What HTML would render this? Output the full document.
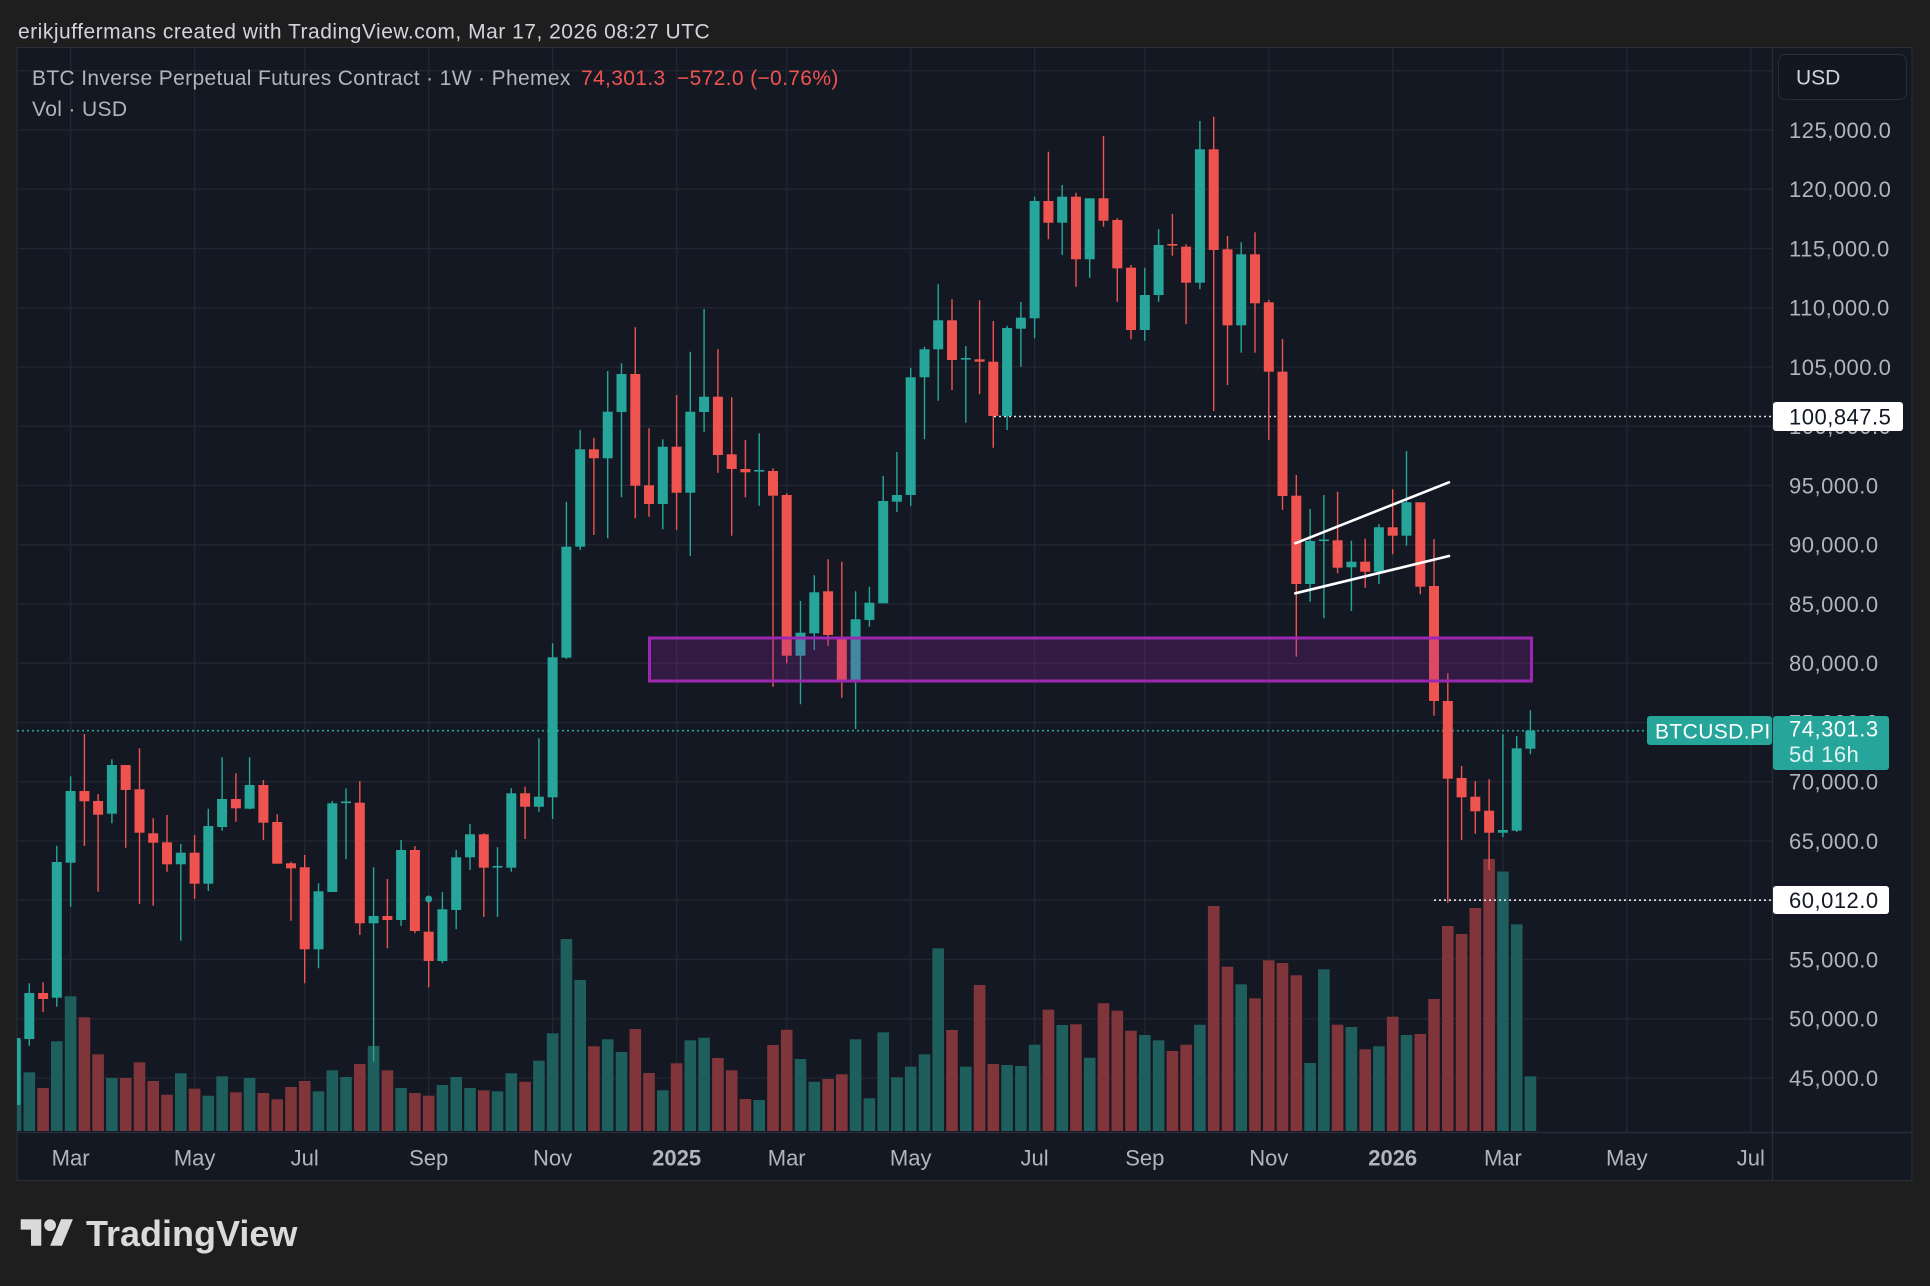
<!DOCTYPE html>
<html>
<head>
<meta charset="utf-8">
<style>
html,body{margin:0;padding:0;background:#1e1e1e;width:1930px;height:1286px;overflow:hidden;}
svg{display:block;font-family:"Liberation Sans",Arial,sans-serif;}
</style>
</head>
<body>
<svg width="1930" height="1286" viewBox="0 0 1930 1286" xmlns="http://www.w3.org/2000/svg">
<defs>
<clipPath id="plot"><rect x="17" y="48" width="1755.5" height="1084"/></clipPath>
</defs>
<rect x="0" y="0" width="1930" height="1286" fill="#1e1e1e"/>
<text x="18" y="38.5" font-size="21" fill="#d1d4dc" letter-spacing="0.5">erikjuffermans created with TradingView.com, Mar 17, 2026 08:27 UTC</text>

<!-- chart panel -->
<rect x="17" y="47.5" width="1895" height="1133" fill="#141823" stroke="#2a2e39" stroke-width="1"/>

<!-- grid -->
<g stroke="#232733" stroke-width="1.3">
<path d="M17 70.75H1772 M17 130H1772 M17 189.25H1772 M17 248.5H1772 M17 307.75H1772 M17 367H1772 M17 426.25H1772 M17 485.5H1772 M17 544.75H1772 M17 604H1772 M17 663.25H1772 M17 722.5H1772 M17 781.75H1772 M17 841H1772 M17 900.25H1772 M17 959.5H1772 M17 1018.75H1772 M17 1078H1772"/>
<path d="M70.6 48V1132 M194.6 48V1132 M304.7 48V1132 M428.7 48V1132 M552.6 48V1132 M676.6 48V1132 M786.7 48V1132 M910.7 48V1132 M1034.6 48V1132 M1144.8 48V1132 M1268.8 48V1132 M1392.7 48V1132 M1502.9 48V1132 M1626.8 48V1132 M1750.8 48V1132"/>
</g>

<g clip-path="url(#plot)">
<!-- volume -->
<g fill="#1e5e5d">
<rect x="9.7" y="1040" width="11.6" height="91"/>
<rect x="23.5" y="1072.3" width="11.6" height="58.7"/>
<rect x="51" y="1041.3" width="11.6" height="89.7"/>
<rect x="64.8" y="996.3" width="11.6" height="134.7"/>
<rect x="106.1" y="1078" width="11.6" height="53"/>
<rect x="175" y="1073.3" width="11.6" height="57.7"/>
<rect x="202.5" y="1095.7" width="11.6" height="35.3"/>
<rect x="216.3" y="1076.3" width="11.6" height="54.7"/>
<rect x="243.8" y="1078" width="11.6" height="53"/>
<rect x="312.7" y="1091.3" width="11.6" height="39.7"/>
<rect x="326.5" y="1070.3" width="11.6" height="60.7"/>
<rect x="340.2" y="1077" width="11.6" height="54"/>
<rect x="367.8" y="1046" width="11.6" height="85"/>
<rect x="395.3" y="1088" width="11.6" height="43"/>
<rect x="436.6" y="1085" width="11.6" height="46"/>
<rect x="450.4" y="1077" width="11.6" height="54"/>
<rect x="464.2" y="1088" width="11.6" height="43"/>
<rect x="491.7" y="1091.3" width="11.6" height="39.7"/>
<rect x="505.5" y="1073.3" width="11.6" height="57.7"/>
<rect x="533.1" y="1060.7" width="11.6" height="70.3"/>
<rect x="546.8" y="1033.3" width="11.6" height="97.7"/>
<rect x="560.6" y="939" width="11.6" height="192"/>
<rect x="574.4" y="980" width="11.6" height="151"/>
<rect x="601.9" y="1039.3" width="11.6" height="91.7"/>
<rect x="615.7" y="1052" width="11.6" height="79"/>
<rect x="657" y="1090.3" width="11.6" height="40.7"/>
<rect x="684.5" y="1040.3" width="11.6" height="90.7"/>
<rect x="698.3" y="1037.7" width="11.6" height="93.3"/>
<rect x="753.4" y="1100" width="11.6" height="31"/>
<rect x="794.7" y="1059" width="11.6" height="72"/>
<rect x="808.5" y="1081.7" width="11.6" height="49.3"/>
<rect x="849.8" y="1039.3" width="11.6" height="91.7"/>
<rect x="863.6" y="1098.3" width="11.6" height="32.7"/>
<rect x="877.4" y="1032.3" width="11.6" height="98.7"/>
<rect x="891.1" y="1077.3" width="11.6" height="53.7"/>
<rect x="904.9" y="1066.7" width="11.6" height="64.3"/>
<rect x="918.7" y="1054.3" width="11.6" height="76.7"/>
<rect x="932.4" y="948.3" width="11.6" height="182.7"/>
<rect x="960" y="1066.7" width="11.6" height="64.3"/>
<rect x="1001.3" y="1065" width="11.6" height="66"/>
<rect x="1015.1" y="1066" width="11.6" height="65"/>
<rect x="1028.8" y="1044.7" width="11.6" height="86.3"/>
<rect x="1056.4" y="1025" width="11.6" height="106"/>
<rect x="1083.9" y="1057.7" width="11.6" height="73.3"/>
<rect x="1139" y="1035" width="11.6" height="96"/>
<rect x="1152.8" y="1040.3" width="11.6" height="90.7"/>
<rect x="1194.1" y="1024.7" width="11.6" height="106.3"/>
<rect x="1235.4" y="984.3" width="11.6" height="146.7"/>
<rect x="1304.3" y="1063" width="11.6" height="68"/>
<rect x="1318.1" y="969.3" width="11.6" height="161.7"/>
<rect x="1345.6" y="1027" width="11.6" height="104"/>
<rect x="1373.1" y="1046.3" width="11.6" height="84.7"/>
<rect x="1400.7" y="1035" width="11.6" height="96"/>
<rect x="1497.1" y="871.5" width="11.6" height="259.5"/>
<rect x="1510.9" y="924.3" width="11.6" height="206.7"/>
<rect x="1524.6" y="1076.3" width="11.6" height="54.7"/>
</g>
<g fill="#80353a">
<rect x="37.3" y="1088" width="11.6" height="43"/>
<rect x="78.6" y="1017.3" width="11.6" height="113.7"/>
<rect x="92.3" y="1054.3" width="11.6" height="76.7"/>
<rect x="119.9" y="1078" width="11.6" height="53"/>
<rect x="133.7" y="1062.3" width="11.6" height="68.7"/>
<rect x="147.4" y="1081" width="11.6" height="50"/>
<rect x="161.2" y="1094.7" width="11.6" height="36.3"/>
<rect x="188.8" y="1088.7" width="11.6" height="42.3"/>
<rect x="230.1" y="1092.3" width="11.6" height="38.7"/>
<rect x="257.6" y="1093" width="11.6" height="38"/>
<rect x="271.4" y="1099.3" width="11.6" height="31.7"/>
<rect x="285.2" y="1087" width="11.6" height="44"/>
<rect x="298.9" y="1081" width="11.6" height="50"/>
<rect x="354" y="1064" width="11.6" height="67"/>
<rect x="381.6" y="1070.3" width="11.6" height="60.7"/>
<rect x="409.1" y="1093" width="11.6" height="38"/>
<rect x="422.9" y="1095.7" width="11.6" height="35.3"/>
<rect x="478" y="1090.3" width="11.6" height="40.7"/>
<rect x="519.3" y="1081.7" width="11.6" height="49.3"/>
<rect x="588.1" y="1046.3" width="11.6" height="84.7"/>
<rect x="629.5" y="1029" width="11.6" height="102"/>
<rect x="643.2" y="1073" width="11.6" height="58"/>
<rect x="670.8" y="1063.3" width="11.6" height="67.7"/>
<rect x="712.1" y="1058" width="11.6" height="73"/>
<rect x="725.9" y="1070.3" width="11.6" height="60.7"/>
<rect x="739.6" y="1099" width="11.6" height="32"/>
<rect x="767.2" y="1045" width="11.6" height="86"/>
<rect x="780.9" y="1029.8" width="11.6" height="101.2"/>
<rect x="822.3" y="1079" width="11.6" height="52"/>
<rect x="836" y="1074.3" width="11.6" height="56.7"/>
<rect x="946.2" y="1030" width="11.6" height="101"/>
<rect x="973.8" y="985" width="11.6" height="146"/>
<rect x="987.5" y="1064" width="11.6" height="67"/>
<rect x="1042.6" y="1009.7" width="11.6" height="121.3"/>
<rect x="1070.2" y="1024.3" width="11.6" height="106.7"/>
<rect x="1097.7" y="1003.3" width="11.6" height="127.7"/>
<rect x="1111.5" y="1010.7" width="11.6" height="120.3"/>
<rect x="1125.2" y="1030.7" width="11.6" height="100.3"/>
<rect x="1166.6" y="1051" width="11.6" height="80"/>
<rect x="1180.3" y="1044.7" width="11.6" height="86.3"/>
<rect x="1207.9" y="906" width="11.6" height="225"/>
<rect x="1221.7" y="966.7" width="11.6" height="164.3"/>
<rect x="1249.2" y="998.3" width="11.6" height="132.7"/>
<rect x="1263" y="960.3" width="11.6" height="170.7"/>
<rect x="1276.7" y="963" width="11.6" height="168"/>
<rect x="1290.5" y="975.3" width="11.6" height="155.7"/>
<rect x="1331.8" y="1024.7" width="11.6" height="106.3"/>
<rect x="1359.4" y="1049.3" width="11.6" height="81.7"/>
<rect x="1386.9" y="1016.7" width="11.6" height="114.3"/>
<rect x="1414.5" y="1034" width="11.6" height="97"/>
<rect x="1428.2" y="999" width="11.6" height="132"/>
<rect x="1442" y="926" width="11.6" height="205"/>
<rect x="1455.8" y="934" width="11.6" height="197"/>
<rect x="1469.5" y="908" width="11.6" height="223"/>
<rect x="1483.3" y="859" width="11.6" height="272"/>
</g>

<!-- dotted level lines -->
<path d="M17 730.7H1647" stroke="#26a69a" stroke-width="1.6" stroke-dasharray="2 3"/>
<path d="M994 416.5H1773" stroke="#e6e6e6" stroke-width="1.6" stroke-dasharray="2 3"/>
<path d="M1434 900.2H1773" stroke="#e6e6e6" stroke-width="1.6" stroke-dasharray="2 3"/>

<!-- wicks -->
<path stroke="#26a69a" stroke-width="1.4" fill="none" d="M15.5 1030V1110 M29.3 983.3V1045.7 M56.8 845.7V1006.7 M70.6 776.3V906.7 M111.9 759.3V823.3 M180.8 844V940.7 M208.3 808.7V891 M222.1 757.3V830.7 M249.6 757.3V809.3 M318.5 883.3V968.3 M332.3 801V892 M346 788.3V859.3 M373.6 867.3V1061.7 M401.1 840V926 M442.4 892.3V963.3 M456.2 850V929.3 M470 824V870 M497.5 847.3V917 M511.3 788.3V871.7 M538.9 738.3V811.7 M552.6 643.3V819 M566.4 501.7V659 M580.2 430V550 M607.7 371V538.3 M621.5 363.3V497.3 M662.8 439.3V529.3 M690.3 351.7V556 M704.1 309V432.3 M759.2 433.3V505.7 M800.5 601V704.3 M814.3 575.3V650 M855.6 591.3V729 M869.4 586.7V626.7 M883.2 476V603.3 M896.9 452V512 M910.7 367.7V506 M924.5 346.7V439.3 M938.2 284.3V400.7 M965.8 346V422.7 M1007.1 325.7V430 M1020.9 302V366.7 M1034.6 196.7V338.3 M1062.2 185V255 M1089.7 198.3V277.7 M1144.8 267.7V340.7 M1158.6 229.3V301.7 M1199.9 121V289.3 M1241.2 242.3V352.7 M1310.1 509V601.7 M1323.9 495V618.3 M1351.4 540.7V611 M1378.9 524.3V584 M1406.5 451V545.7 M1502.9 734.3V837.3 M1516.7 736V832 M1530.4 710.3V754.3"/>
<path stroke="#ef5350" stroke-width="1.4" fill="none" d="M43.1 982.3V1012.3 M84.4 734V846 M98.1 794V891.7 M125.7 765V847.7 M139.5 748.3V904 M153.2 818.3V905.7 M167 815V871.7 M194.6 835V899 M235.9 773.3V821.7 M263.4 780V840 M277.2 814.3V863.7 M291 861.7V920.7 M304.7 855V983.3 M359.8 781.3V935 M387.4 879V948.3 M414.9 846V933.3 M428.7 899V987.3 M483.8 833.3V917 M525.1 786.7V839 M593.9 437.7V535 M635.3 327.3V518.3 M649 428.3V516.7 M676.6 395V530 M717.9 349.3V472.7 M731.7 397.3V535.7 M745.4 440V497.3 M773 468.3V686.7 M786.7 493.3V663.3 M828.1 559.3V645.7 M841.8 561.7V697.7 M952 299.3V390 M979.6 300.3V394.3 M993.3 321V447.7 M1048.4 151.7V239.3 M1076 192.7V286.7 M1103.5 136V226.7 M1117.3 218.3V301.7 M1131 265V339.3 M1172.4 214V255.7 M1186.1 244.3V324.3 M1213.7 116.7V411 M1227.5 236V385 M1255 232.3V352.7 M1268.8 300V440 M1282.5 339V510 M1296.3 475V656.7 M1337.6 491.7V573.3 M1365.2 538.7V587.7 M1392.7 489.3V554.3 M1420.3 502.3V594.3 M1434 539.3V715.7 M1447.8 673.3V902.7 M1461.6 766V840 M1475.3 781V833.7 M1489.1 779.3V870"/>

<!-- bodies -->
<g fill="#26a69a">
<rect x="10.5" y="1038" width="10" height="67"/>
<rect x="24.3" y="993" width="10" height="46"/>
<rect x="51.8" y="862" width="10" height="135.7"/>
<rect x="65.6" y="791" width="10" height="71.7"/>
<rect x="106.9" y="765" width="10" height="48.7"/>
<rect x="175.8" y="852.7" width="10" height="11.6"/>
<rect x="203.3" y="826" width="10" height="57.7"/>
<rect x="217.1" y="799" width="10" height="28"/>
<rect x="244.6" y="785" width="10" height="23.7"/>
<rect x="313.5" y="891.3" width="10" height="58"/>
<rect x="327.3" y="803.3" width="10" height="88.7"/>
<rect x="341" y="801.5" width="10" height="1.6"/>
<rect x="368.6" y="916" width="10" height="7.3"/>
<rect x="396.1" y="850" width="10" height="70"/>
<rect x="437.4" y="909.3" width="10" height="51.7"/>
<rect x="451.2" y="857.3" width="10" height="52.7"/>
<rect x="465" y="834.3" width="10" height="23"/>
<rect x="492.5" y="866" width="10" height="1.6"/>
<rect x="506.3" y="793.3" width="10" height="74.4"/>
<rect x="533.9" y="796.7" width="10" height="10"/>
<rect x="547.6" y="657.3" width="10" height="140"/>
<rect x="561.4" y="546.7" width="10" height="111"/>
<rect x="575.2" y="449.3" width="10" height="97.4"/>
<rect x="602.7" y="411.7" width="10" height="46.6"/>
<rect x="616.5" y="374" width="10" height="38"/>
<rect x="657.8" y="446.7" width="10" height="57.3"/>
<rect x="685.3" y="411.7" width="10" height="81"/>
<rect x="699.1" y="396.7" width="10" height="15.3"/>
<rect x="754.2" y="470" width="10" height="1.6"/>
<rect x="795.5" y="632.7" width="10" height="23"/>
<rect x="809.3" y="592.3" width="10" height="41"/>
<rect x="850.6" y="619.3" width="10" height="61.7"/>
<rect x="864.4" y="602.7" width="10" height="17.3"/>
<rect x="878.2" y="501" width="10" height="102.3"/>
<rect x="891.9" y="495" width="10" height="6.7"/>
<rect x="905.7" y="377.3" width="10" height="117.7"/>
<rect x="919.5" y="349.3" width="10" height="28"/>
<rect x="933.2" y="320.3" width="10" height="29"/>
<rect x="960.8" y="358" width="10" height="1.6"/>
<rect x="1002.1" y="328" width="10" height="88"/>
<rect x="1015.9" y="317.7" width="10" height="11"/>
<rect x="1029.6" y="201" width="10" height="117.3"/>
<rect x="1057.2" y="196.7" width="10" height="26"/>
<rect x="1084.7" y="198.3" width="10" height="61"/>
<rect x="1139.8" y="295" width="10" height="35"/>
<rect x="1153.6" y="245" width="10" height="50"/>
<rect x="1194.9" y="149.3" width="10" height="133.4"/>
<rect x="1236.2" y="254.3" width="10" height="71"/>
<rect x="1305.1" y="541" width="10" height="43"/>
<rect x="1318.9" y="539.5" width="10" height="1.6"/>
<rect x="1346.4" y="561.7" width="10" height="5.6"/>
<rect x="1373.9" y="527.3" width="10" height="44.4"/>
<rect x="1401.5" y="502.3" width="10" height="33.4"/>
<rect x="1497.9" y="830" width="10" height="2.7"/>
<rect x="1511.7" y="748.3" width="10" height="82.4"/>
<rect x="1525.4" y="730.7" width="10" height="18"/>
</g>
<g fill="#ef5350">
<rect x="38.1" y="993" width="10" height="6"/>
<rect x="79.4" y="791" width="10" height="10.3"/>
<rect x="93.1" y="801" width="10" height="13.7"/>
<rect x="120.7" y="765" width="10" height="25"/>
<rect x="134.5" y="789.3" width="10" height="43.4"/>
<rect x="148.2" y="833.3" width="10" height="9.4"/>
<rect x="162" y="842.3" width="10" height="22"/>
<rect x="189.6" y="852.7" width="10" height="31"/>
<rect x="230.9" y="799" width="10" height="9.3"/>
<rect x="258.4" y="785" width="10" height="37.7"/>
<rect x="272.2" y="822" width="10" height="41.7"/>
<rect x="286" y="863.3" width="10" height="5"/>
<rect x="299.7" y="867.3" width="10" height="82"/>
<rect x="354.8" y="802.7" width="10" height="120.6"/>
<rect x="382.4" y="916" width="10" height="4"/>
<rect x="409.9" y="850" width="10" height="81"/>
<rect x="423.7" y="931.7" width="10" height="29.3"/>
<rect x="478.8" y="834.3" width="10" height="33.4"/>
<rect x="520.1" y="793.3" width="10" height="13.4"/>
<rect x="588.9" y="449.3" width="10" height="9"/>
<rect x="630.3" y="374" width="10" height="111.7"/>
<rect x="644" y="485.3" width="10" height="18.7"/>
<rect x="671.6" y="446.7" width="10" height="46"/>
<rect x="712.9" y="396.7" width="10" height="58.3"/>
<rect x="726.7" y="454.3" width="10" height="14.7"/>
<rect x="740.4" y="469" width="10" height="3.3"/>
<rect x="768" y="471" width="10" height="24.7"/>
<rect x="781.7" y="495" width="10" height="160.7"/>
<rect x="823.1" y="591.3" width="10" height="43.7"/>
<rect x="836.8" y="637.5" width="10" height="43.5"/>
<rect x="947" y="320.3" width="10" height="39.7"/>
<rect x="974.6" y="359.3" width="10" height="2.4"/>
<rect x="988.3" y="361.7" width="10" height="54.3"/>
<rect x="1043.4" y="201" width="10" height="21.7"/>
<rect x="1071" y="196.7" width="10" height="62.6"/>
<rect x="1098.5" y="198.3" width="10" height="22.4"/>
<rect x="1112.3" y="220" width="10" height="48.3"/>
<rect x="1126" y="267.7" width="10" height="62.3"/>
<rect x="1167.4" y="244" width="10" height="1.6"/>
<rect x="1181.1" y="246.7" width="10" height="36"/>
<rect x="1208.7" y="149.3" width="10" height="100.7"/>
<rect x="1222.5" y="249.3" width="10" height="76"/>
<rect x="1250" y="254.3" width="10" height="49"/>
<rect x="1263.8" y="302.3" width="10" height="69.4"/>
<rect x="1277.5" y="371.7" width="10" height="124.3"/>
<rect x="1291.3" y="495.7" width="10" height="88.3"/>
<rect x="1332.6" y="540.3" width="10" height="27.4"/>
<rect x="1360.2" y="561.7" width="10" height="10"/>
<rect x="1387.7" y="527.3" width="10" height="8.4"/>
<rect x="1415.3" y="502.3" width="10" height="84.4"/>
<rect x="1429" y="586" width="10" height="115"/>
<rect x="1442.8" y="701" width="10" height="77.7"/>
<rect x="1456.6" y="778" width="10" height="19.3"/>
<rect x="1470.3" y="796.7" width="10" height="14.6"/>
<rect x="1484.1" y="810.7" width="10" height="22"/>
</g>
<circle cx="428.7" cy="899" r="3.5" fill="#26a69a"/>

<!-- purple zone -->
<rect x="649.5" y="638" width="882" height="43" fill="rgba(156,39,176,0.22)" stroke="#9c27b0" stroke-width="3"/>

<!-- trendlines -->
<path d="M1295.3 543.3L1449 482.3 M1295.3 593.3L1449 556" stroke="#ffffff" stroke-width="2.6" stroke-linecap="round"/>
</g>

<!-- axis separators -->
<path d="M1772.5 47.5V1180.5" stroke="#2a2e39" stroke-width="1.3"/>
<path d="M17 1132.5H1912" stroke="#2a2e39" stroke-width="1.3"/>

<!-- legend -->
<text x="32" y="85" font-size="21" fill="#b2b5be" letter-spacing="0.35">BTC Inverse Perpetual Futures Contract · 1W · Phemex</text>
<text x="581" y="85" font-size="21" fill="#ef5350" letter-spacing="0.35">74,301.3</text>
<text x="677" y="85" font-size="21" fill="#ef5350" letter-spacing="0.35">−572.0 (−0.76%)</text>
<text x="32" y="115.8" font-size="21" fill="#b2b5be" letter-spacing="0.35">Vol · USD</text>

<!-- USD box -->
<rect x="1778.5" y="54.5" width="128" height="45" rx="7" fill="#131722" stroke="#2a2e39" stroke-width="1"/>
<text x="1796" y="84.5" font-size="21" fill="#d1d4dc">USD</text>

<!-- price labels -->
<g font-size="22" fill="#b2b5be" letter-spacing="0.5">
<text x="1789" y="137.9">125,000.0</text>
<text x="1789" y="197.1">120,000.0</text>
<text x="1789" y="256.4">115,000.0</text>
<text x="1789" y="315.6">110,000.0</text>
<text x="1789" y="374.9">105,000.0</text>
<text x="1789" y="434.1">100,000.0</text>
<text x="1789" y="493.4">95,000.0</text>
<text x="1789" y="552.6">90,000.0</text>
<text x="1789" y="611.9">85,000.0</text>
<text x="1789" y="671.1">80,000.0</text>
<text x="1789" y="730.4">75,000.0</text>
<text x="1789" y="789.6">70,000.0</text>
<text x="1789" y="848.9">65,000.0</text>
<text x="1789" y="908.1">60,000.0</text>
<text x="1789" y="967.4">55,000.0</text>
<text x="1789" y="1026.6">50,000.0</text>
<text x="1789" y="1085.9">45,000.0</text>
</g>

<!-- highlighted price labels -->
<rect x="1773" y="402" width="130" height="29" rx="3" fill="#ffffff"/>
<text x="1789" y="424.3" font-size="22" fill="#131722" letter-spacing="0.5">100,847.5</text>
<rect x="1773" y="886" width="116" height="28" rx="3" fill="#ffffff"/>
<text x="1789" y="908" font-size="22" fill="#131722" letter-spacing="0.5">60,012.0</text>
<rect x="1773" y="716" width="116" height="54" rx="3" fill="#26a69a"/>
<text x="1789" y="736.5" font-size="22" fill="#ffffff" letter-spacing="0.5">74,301.3</text>
<text x="1789" y="762" font-size="22" fill="#e0f2f1" letter-spacing="0.5">5d 16h</text>
<rect x="1647" y="716" width="125" height="29" rx="3" fill="#26a69a"/>
<text x="1655" y="738.5" font-size="21" fill="#ffffff" letter-spacing="0.4">BTCUSD.PI</text>

<!-- time labels -->
<g font-size="22" fill="#b2b5be" text-anchor="middle">
<text x="70.6" y="1165.5">Mar</text>
<text x="194.6" y="1165.5">May</text>
<text x="304.7" y="1165.5">Jul</text>
<text x="428.7" y="1165.5">Sep</text>
<text x="552.6" y="1165.5">Nov</text>
<text x="676.6" y="1165.5" font-weight="bold">2025</text>
<text x="786.7" y="1165.5">Mar</text>
<text x="910.7" y="1165.5">May</text>
<text x="1034.6" y="1165.5">Jul</text>
<text x="1144.8" y="1165.5">Sep</text>
<text x="1268.8" y="1165.5">Nov</text>
<text x="1392.7" y="1165.5" font-weight="bold">2026</text>
<text x="1502.9" y="1165.5">Mar</text>
<text x="1626.8" y="1165.5">May</text>
<text x="1750.8" y="1165.5">Jul</text>
</g>

<!-- TradingView logo -->
<g fill="#d9dadc" transform="translate(20.7,1213.4) scale(1.47)">
<path d="M14 22H7V11H0V4h14v18zM28 22h-8l7.5-18h8L28 22z"/>
<circle cx="20" cy="8" r="4"/>
</g>
<text x="86" y="1246" font-size="36" font-weight="bold" fill="#d9dadc">TradingView</text>
</svg>
</body>
</html>
